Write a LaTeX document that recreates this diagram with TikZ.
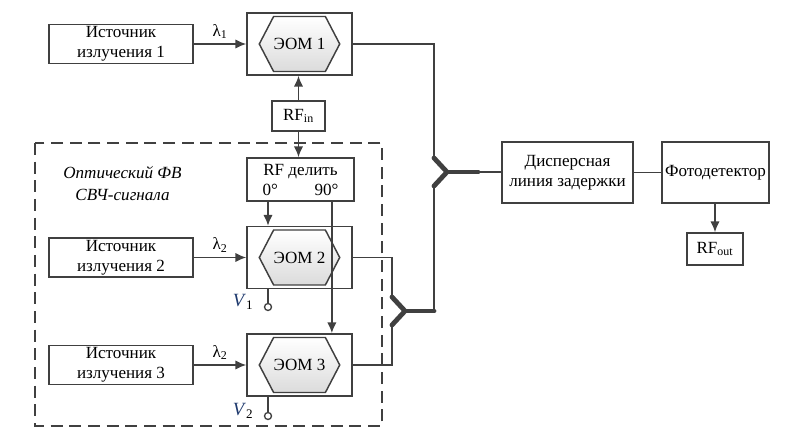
\documentclass[tikz,border=0pt]{standalone}
\usepackage{fontspec}
\setmainfont{Liberation Serif}
\usetikzlibrary{arrows.meta,positioning,shapes.symbols,calc}
\newdimen\px \px=0.75pt
\definecolor{linec}{HTML}{404040}
\definecolor{vblue}{HTML}{1F3A6E}
\tikzset{
  blk/.style={draw=linec, line width=1.3pt, inner sep=0pt, align=center},
  hexa/.style={signal, signal to=east and west, signal pointer angle=125,
    draw=linec, line width=1.1pt, top color=white, bottom color=gray!28,
    minimum width=77\px, minimum height=55\px, inner sep=0pt},
  con/.style={draw=linec, line width=1.1pt},
  arr/.style={con, -{Latex[length=8pt,width=7pt]}},
  ybr/.style={draw=linec, line width=3.6pt, line cap=round, line join=round},
  term/.style={circle, draw=linec, line width=1pt, fill=white, minimum size=7\px, inner sep=0pt},
}
\begin{document}
\begin{tikzpicture}[x=0.75pt, y=-0.75pt, font=\fontsize{12.8}{15}\selectfont]
  \useasboundingbox (0,0) rectangle (802,441);
  \draw[linec, line width=1.2pt, dash pattern=on 9pt off 5pt] (35,143) rectangle (382,426);

  \node[blk, minimum width=144\px, minimum height=39\px] (src1) at (121,44) {Источник\\излучения 1};
  \node[blk, minimum width=105\px, minimum height=62\px] (eom1) at (299.5,44) {};
  \node[hexa] (hex1) at (eom1) {ЭОМ 1};
  \node[blk, minimum width=53\px, minimum height=30\px] (rfin) at (298.5,116) {RF\textsubscript{in}};
  \node[blk, minimum width=107\px, minimum height=43\px] (split) at (300.5,179.5) {RF делить\\\makebox[76\px]{0°\hfill 90°}};
  \node[align=center, font=\fontsize{12.8}{16}\selectfont\itshape] (fvlabel) at (122.5,183.5) {Оптический ФВ\\СВЧ-сигнала};

  \node[blk, minimum width=144\px, minimum height=39\px] (src2) at (121,257.5) {Источник\\излучения 2};
  \node[blk, minimum width=105\px, minimum height=62\px] (eom2) at (299.5,257.5) {};
  \node[hexa] (hex2) at (eom2) {ЭОМ 2};
  \node[blk, minimum width=144\px, minimum height=39\px] (src3) at (121,365) {Источник\\излучения 3};
  \node[blk, minimum width=105\px, minimum height=62\px] (eom3) at (299.5,365) {};
  \node[hexa] (hex3) at (eom3) {ЭОМ 3};

  \node[blk, minimum width=131\px, minimum height=61\px] (disp) at (567.5,172.5) {Дисперсная\\линия задержки};
  \node[blk, minimum width=107\px, minimum height=61\px] (pd) at (715.5,172.5) {Фотодетектор};
  \node[blk, minimum width=56\px, minimum height=32\px] (rfout) at (715,249) {RF\textsubscript{out}};

  \node[term] (v1) at (268,307) {};
  \node[term] (v2) at (268,416) {};
  \node[font=\fontsize{14}{16}\selectfont] (v1lab) at (243,302) {\textcolor{vblue}{\textit{V}}\textsubscript{1}};
  \node[font=\fontsize{14}{16}\selectfont] (v2lab) at (243,411) {\textcolor{vblue}{\textit{V}}\textsubscript{2}};

  \draw[arr] (src1) -- node[above] {λ\textsubscript{1}} (eom1);
  \draw[arr] (src2) -- node[above] {λ\textsubscript{2}} (eom2);
  \draw[arr] (src3) -- node[above] {λ\textsubscript{2}} (eom3);
  \draw[arr] (rfin.north) -- (rfin.north |- eom1.south);
  \draw[arr] (rfin.south) -- (rfin.south |- split.north);
  \coordinate (t90) at ($(split.south east)+(-23,0)$);
  \draw[arr] (v1 |- split.south) -- (v1 |- eom2.north);
  \draw[arr] (t90) -- (t90 |- eom3.north);
  \draw[con] (v1 |- eom2.south) -- (v1.north);
  \draw[con] (v2 |- eom3.south) -- (v2.north);

  \coordinate (ya) at (447,172);
  \coordinate (ya1) at (434,158);
  \coordinate (ya2) at (434,186);
  \coordinate (yb) at (405,311);
  \coordinate (yb1) at (392,297);
  \coordinate (yb2) at (392,325);
  \draw[con] (eom1.east) -| (ya1);
  \draw[con] (ya) -- (ya -| disp.west);
  \draw[ybr] (ya1) -- (ya) -- (ya2);
  \draw[ybr] (ya) -- ++(31,0);
  \draw[con] (ya2) -- (ya2 |- yb);
  \draw[con] (eom2.east) -| (yb1);
  \draw[con] (yb2) |- (eom3.east);
  \draw[ybr] (yb1) -- (yb) -- (yb2);
  \draw[ybr] (yb) -- (ya2 |- yb);
  \draw[con] (disp) -- (pd);
  \draw[arr] (rfout.north |- pd.south) -- (rfout.north);
\end{tikzpicture}
\end{document}
